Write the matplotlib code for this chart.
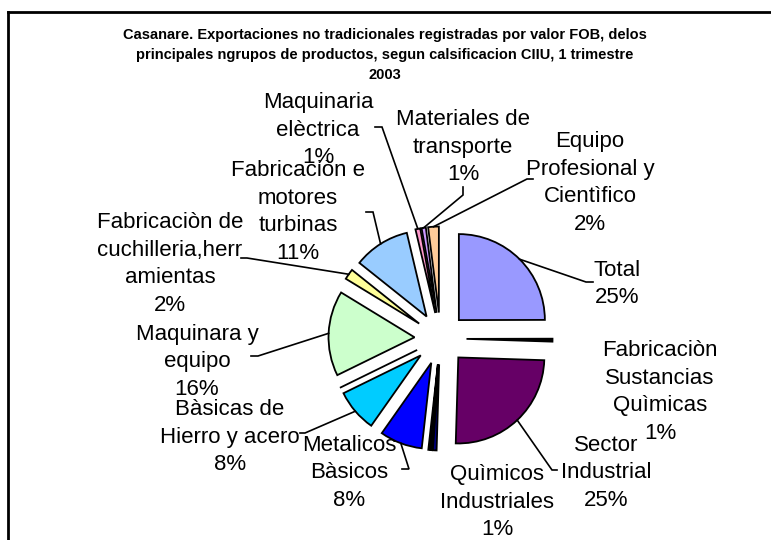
import numpy as np
import matplotlib
matplotlib.use("Agg")
import matplotlib.pyplot as plt

W, H = 771, 540

title = ("Casanare. Exportaciones no tradicionales registradas por valor FOB, delos\n"
         "principales ngrupos de productos, segun calsificacion CIIU, 1 trimestre\n"
         "2003")

# slices, clockwise from 12 o'clock ("" = unlabeled sliver)
categories = ["Total", "Fabricaciòn\nSustancias\nQuìmicas", "Sector\nIndustrial",
              "Quìmicos\nIndustriales", "", "", "Metalicos\nBàsicos",
              "Bàsicas de\nHierro y acero", "", "Maquinara y\nequipo",
              "Fabricaciòn de\ncuchilleria,herr\namientas",
              "Fabricaciòn e\nmotores\nturbinas", "Maquinaria\nelèctrica",
              "Materiales de\ntransporte", "Equipo\nProfesional y\nCientìfico"]
shares = [25, 0.55, 25, 0.7, 0.3, 0.3, 8, 8, 0, 16, 2, 10.6, 0.9, 0.8, 2.0]
colors = ["#9999FF", "#000000", "#660066", "#000080", "#800000", "#008080",
          "#0000FF", "#00CCFF", "#CCFFFF", "#CCFFCC", "#FFFF99", "#99CCFF",
          "#FF99CC", "#CC99FF", "#FFCC99"]

# label block centres and leader (elbow, tick end), pixels from top-left
label_xy = [(617, 282), (660, 390), (606, 471), (497, 500), None, None,
            (349, 471), (230, 435), None, (197, 360), (170, 262),
            (298, 210), (318, 128), (463, 145), (590, 181)]
leaders = [((586, 282), (593, 282)), None, ((552, 470), (557, 470)), None,
           None, None, ((409, 469), (402, 469)), ((305, 433), (300, 433)),
           None, ((258, 356), (251, 356)), ((247, 258), (241, 258)),
           ((373, 212), (366, 212)), ((382, 127), (375, 127)),
           ((463, 195), (463, 187)), ((527, 179), (533, 179))]
LINE_STEP = 27.5

fig = plt.figure(figsize=(W / 100, H / 100), dpi=100)
ax = fig.add_axes([0, 0, 1, 1])

cx, cy, rad, boom = 440.5, H - 338.5, 86, 26
wedges, _ = ax.pie(shares, colors=colors, startangle=90, counterclock=False,
                   radius=rad, center=(cx, cy), explode=[boom] * len(shares),
                   wedgeprops=dict(edgecolor="black", linewidth=1.3))
ax.set_xlim(0, W)
ax.set_ylim(0, H)
ax.set_aspect("equal")
ax.axis("off")

pct = np.array(shares) / np.sum(shares) * 100

for w, name, p, xy, lead in zip(wedges, categories, pct, label_xy, leaders):
    if xy is None:
        continue
    lines = name.split("\n") + [f"{p:.0f}%"]
    n = len(lines)
    for i, line in enumerate(lines):
        yc = xy[1] + (i - (n - 1) / 2) * LINE_STEP
        ax.text(xy[0], H - (yc + 7.5), line, ha="center", va="baseline",
                fontsize=16, family="Liberation Sans")
    if lead is not None:
        th = np.deg2rad((w.theta1 + w.theta2) / 2)
        px = w.center[0] + w.r * np.cos(th)
        py = w.center[1] + w.r * np.sin(th)
        (ex, ey), (tx, ty) = lead
        ax.plot([px, ex, tx], [py, H - ey, H - ty], color="black", lw=1.2,
                solid_joinstyle="miter")

# chart frame (top and left edges visible in the crop)
ax.plot([8, W + 5], [H - 12, H - 12], color="black", lw=2, clip_on=False)
ax.plot([8, 8], [H - 12, -5], color="black", lw=2, clip_on=False)

fig.text(385 / W, 1 - 55 / H, title, ha="center", va="center", fontsize=10.5,
         fontweight="bold", family="Liberation Sans", linespacing=1.55)

fig.savefig("out.png", dpi=100)
